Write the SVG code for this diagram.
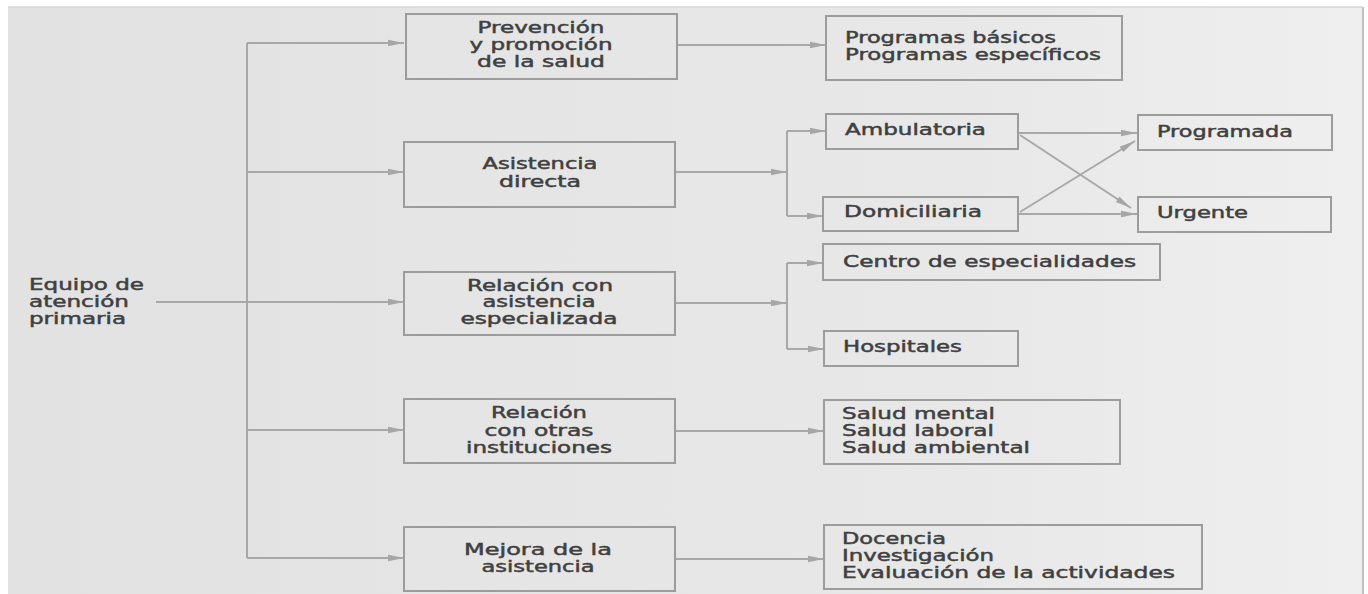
<svg xmlns="http://www.w3.org/2000/svg" width="1368" height="594" viewBox="0 0 1368 594">
<defs>
<linearGradient id="page" x1="0" y1="0" x2="1" y2="0">
<stop offset="0" stop-color="#e2e2e2"/>
<stop offset="0.7" stop-color="#e8e8e8"/>
<stop offset="1" stop-color="#efefef"/>
</linearGradient>
<marker id="arr" viewBox="0 0 16 8" refX="16" refY="4" markerWidth="16" markerHeight="8" markerUnits="userSpaceOnUse" orient="auto">
<path d="M0,0.8 L16,4 L0,7.2 Z" fill="#a6a6a6"/>
</marker>
<style>
.box{fill:none;stroke:#9c9c9c;stroke-width:2}
.t{font-family:"DejaVu Sans","Verdana",sans-serif;font-size:15px;fill:#404040;stroke:#404040;stroke-width:0.45}
.c{text-anchor:middle}
.ln{fill:none;stroke:#a8a8a8;stroke-width:2}
.a{marker-end:url(#arr)}
</style>
</defs>
<rect x="0" y="0" width="1368" height="594" fill="#ffffff"/>
<rect x="8" y="7" width="1355" height="587" fill="url(#page)"/>
<line x1="1363" y1="7" x2="1363" y2="594" stroke="#b0b0b0" stroke-width="1.5"/>
<line x1="8" y1="7" x2="1363" y2="7" stroke="#d6d6d6" stroke-width="1.5"/>

<g id="connectors">
<path class="ln" d="M247,43 V558"/>
<path class="ln a" d="M247,43 H404"/>
<path class="ln a" d="M247,172 H404"/>
<path class="ln a" d="M156,302 H404"/>
<path class="ln a" d="M247,430 H404"/>
<path class="ln a" d="M247,558 H404"/>
<path class="ln a" d="M677,45 H826"/>
<path class="ln a" d="M675,172 H787"/>
<path class="ln" d="M787,131 V216"/>
<path class="ln a" d="M787,131 H826"/>
<path class="ln a" d="M787,216 H823"/>
<path class="ln a" d="M675,303 H787"/>
<path class="ln" d="M787,263 V349"/>
<path class="ln a" d="M787,263 H823"/>
<path class="ln a" d="M787,349 H824"/>
<path class="ln a" d="M1018,133 H1137"/>
<path class="ln a" d="M1020,135 L1131,208"/>
<path class="ln a" d="M1020,212 L1135,141"/>
<path class="ln a" d="M1018,214 H1137"/>
<path class="ln a" d="M675,431 H824"/>
<path class="ln a" d="M675,559 H824"/>
</g>

<g id="equipo">
<text class="t" x="29" y="290" textLength="115" lengthAdjust="spacingAndGlyphs">Equipo de</text>
<text class="t" x="29" y="307" textLength="100" lengthAdjust="spacingAndGlyphs">atención</text>
<text class="t" x="29" y="324" textLength="97" lengthAdjust="spacingAndGlyphs">primaria</text>
</g>

<g id="prevencion">
<rect class="box" x="406" y="14" width="271" height="65"/>
<text class="t c" x="541" y="33" textLength="127" lengthAdjust="spacingAndGlyphs">Prevención</text>
<text class="t c" x="541" y="50" textLength="143" lengthAdjust="spacingAndGlyphs">y promoción</text>
<text class="t c" x="541" y="67" textLength="128" lengthAdjust="spacingAndGlyphs">de la salud</text>
</g>

<g id="programas">
<rect class="box" x="826" y="16" width="296" height="64"/>
<text class="t" x="845" y="43" textLength="211" lengthAdjust="spacingAndGlyphs">Programas básicos</text>
<text class="t" x="845" y="60" textLength="256" lengthAdjust="spacingAndGlyphs">Programas específicos</text>
</g>

<g id="asistencia">
<rect class="box" x="404" y="142" width="271" height="65"/>
<text class="t c" x="540" y="169" textLength="115" lengthAdjust="spacingAndGlyphs">Asistencia</text>
<text class="t c" x="540" y="187" textLength="82" lengthAdjust="spacingAndGlyphs">directa</text>
</g>

<g id="ambulatoria">
<rect class="box" x="826" y="114" width="192" height="35"/>
<text class="t" x="845" y="135" textLength="141" lengthAdjust="spacingAndGlyphs">Ambulatoria</text>
</g>

<g id="domiciliaria">
<rect class="box" x="823" y="197" width="195" height="34"/>
<text class="t" x="844" y="217" textLength="138" lengthAdjust="spacingAndGlyphs">Domiciliaria</text>
</g>

<g id="programada">
<rect class="box" x="1138" y="115" width="194" height="35"/>
<text class="t" x="1157" y="137" textLength="136" lengthAdjust="spacingAndGlyphs">Programada</text>
</g>

<g id="urgente">
<rect class="box" x="1138" y="197" width="193" height="35"/>
<text class="t" x="1157" y="218" textLength="91" lengthAdjust="spacingAndGlyphs">Urgente</text>
</g>

<g id="relacion-especializada">
<rect class="box" x="404" y="272" width="271" height="63"/>
<text class="t c" x="540" y="291" textLength="146" lengthAdjust="spacingAndGlyphs">Relación con</text>
<text class="t c" x="539" y="307" textLength="113" lengthAdjust="spacingAndGlyphs">asistencia</text>
<text class="t c" x="539" y="324" textLength="157" lengthAdjust="spacingAndGlyphs">especializada</text>
</g>

<g id="centro">
<rect class="box" x="823" y="244" width="337" height="36"/>
<text class="t" x="843" y="267" textLength="293" lengthAdjust="spacingAndGlyphs">Centro de especialidades</text>
</g>

<g id="hospitales">
<rect class="box" x="824" y="331" width="194" height="35"/>
<text class="t" x="843" y="352" textLength="119" lengthAdjust="spacingAndGlyphs">Hospitales</text>
</g>

<g id="relacion-instituciones">
<rect class="box" x="404" y="399" width="271" height="64"/>
<text class="t c" x="539" y="418" textLength="96" lengthAdjust="spacingAndGlyphs">Relación</text>
<text class="t c" x="539" y="436" textLength="109" lengthAdjust="spacingAndGlyphs">con otras</text>
<text class="t c" x="539" y="453" textLength="146" lengthAdjust="spacingAndGlyphs">instituciones</text>
</g>

<g id="salud">
<rect class="box" x="824" y="400" width="296" height="64"/>
<text class="t" x="842" y="419" textLength="153" lengthAdjust="spacingAndGlyphs">Salud mental</text>
<text class="t" x="842" y="436" textLength="152" lengthAdjust="spacingAndGlyphs">Salud laboral</text>
<text class="t" x="842" y="453" textLength="188" lengthAdjust="spacingAndGlyphs">Salud ambiental</text>
</g>

<g id="mejora">
<rect class="box" x="404" y="527" width="271" height="64"/>
<text class="t c" x="538" y="555" textLength="148" lengthAdjust="spacingAndGlyphs">Mejora de la</text>
<text class="t c" x="538" y="572" textLength="113" lengthAdjust="spacingAndGlyphs">asistencia</text>
</g>

<g id="docencia">
<rect class="box" x="824" y="525" width="378" height="64"/>
<text class="t" x="842" y="544" textLength="104" lengthAdjust="spacingAndGlyphs">Docencia</text>
<text class="t" x="842" y="561" textLength="152" lengthAdjust="spacingAndGlyphs">Investigación</text>
<text class="t" x="842" y="578" textLength="333" lengthAdjust="spacingAndGlyphs">Evaluación de la actividades</text>
</g>
</svg>
